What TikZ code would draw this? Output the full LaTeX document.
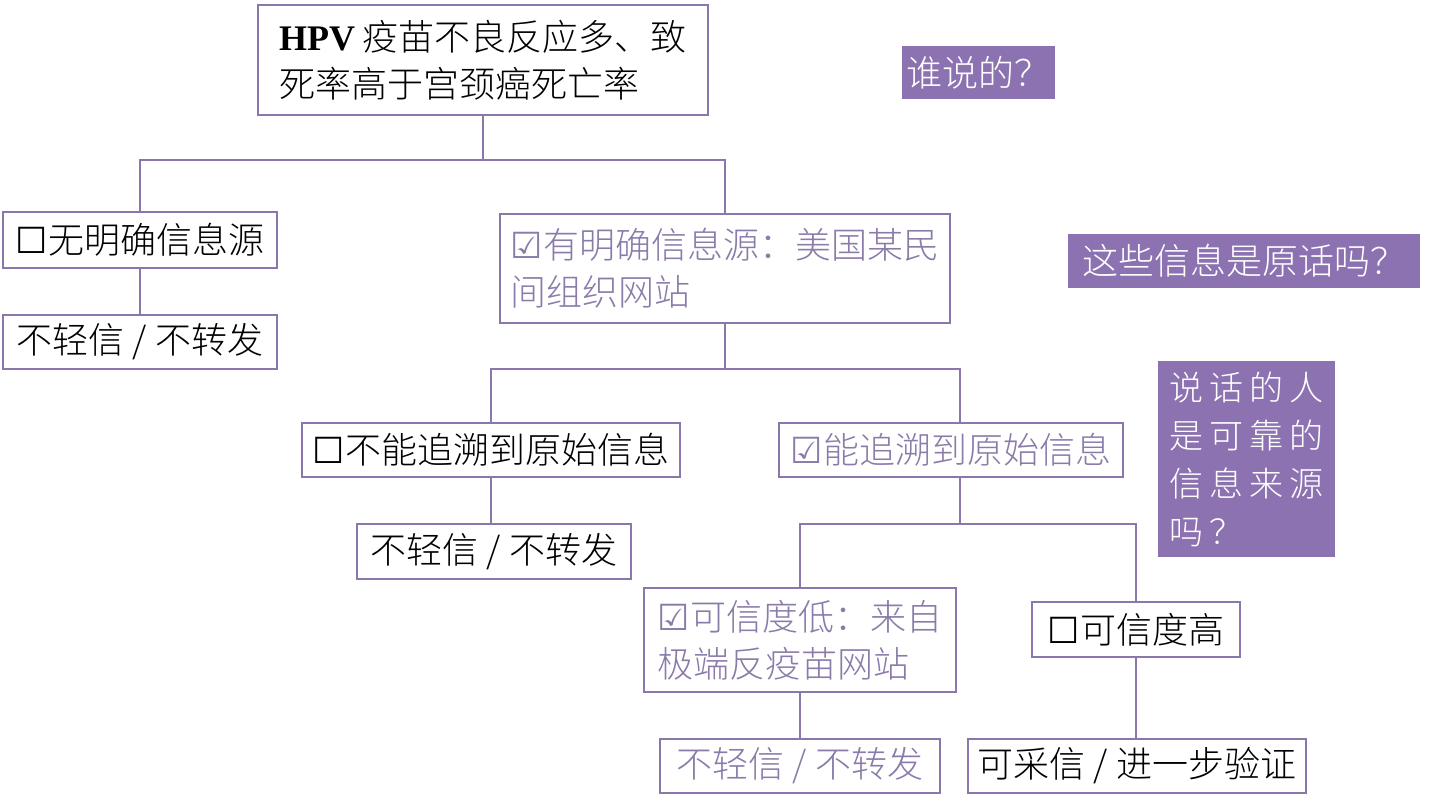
\documentclass[tikz,border=0pt]{standalone}
\usepackage{fontspec}
\setmainfont{Noto Sans CJK SC}[UprightFont=* Light]
\newfontfamily\symfont{DejaVu Sans}
\newfontfamily\hpvfont{Liberation Serif}
\newfontfamily\widefont{Noto Sans CJK SC}[UprightFont=* Light, LetterSpace=17]
\newcommand{\nobox}{{\symfont ☐}}
\newcommand{\yesbox}{{\symfont ☑}}
\definecolor{lineviolet}{HTML}{8A78AD}
\definecolor{fillviolet}{HTML}{8C72B0}
\definecolor{textviolet}{HTML}{8A7BA9}
\tikzset{
  choice/.style={draw=lineviolet, line width=1pt, inner sep=0pt, align=left,
    font=\fontsize{18}{23.5}\selectfont},
  faded/.style={text=textviolet},
  ask/.style={fill=fillviolet, text=white, inner sep=0pt, align=left,
    font=\fontsize{18}{24}\selectfont},
  link/.style={lineviolet, line width=1pt}
}
\begin{document}
\begin{tikzpicture}[x=0.5pt, y=-0.5pt]
\useasboundingbox (0,0) rectangle (1432,800);

\node[choice, minimum width=225pt, minimum height=55pt] (top) at (483,60)
  {{\hpvfont\bfseries HPV} 疫苗不良反应多、致\\死率高于宫颈癌死亡率};
\node[ask, minimum width=76.5pt, minimum height=26.5pt] (who) at (978.5,72.5) {谁说的？};

\node[choice, minimum width=137pt, minimum height=28pt] (nosrc) at (140,240) {\nobox 无明确信息源};
\node[choice, minimum width=137pt, minimum height=27pt] (nosrcout) at (140,342) {不轻信 / 不转发};
\node[choice, faded, minimum width=225pt, minimum height=54.5pt] (src) at (725,268.5)
  {\yesbox 有明确信息源：美国某民\\间组织网站};
\node[ask, minimum width=176pt, minimum height=27pt] (orig) at (1244,261) {这些信息是原话吗？};

\node[choice, minimum width=189pt, minimum height=27pt] (notrace) at (491,450) {\nobox 不能追溯到原始信息};
\node[choice, minimum width=137pt, minimum height=27.5pt] (notraceout) at (494,551.5) {不轻信 / 不转发};
\node[choice, faded, minimum width=172pt, minimum height=27pt] (trace) at (951,450) {\yesbox 能追溯到原始信息};
\node[ask, minimum width=88.5pt, minimum height=98pt, font=\widefont\fontsize{17}{24}\selectfont] (speaker) at (1246.5,459)
  {说话的人\\是可靠的\\信息来源\\吗？};

\node[choice, faded, minimum width=156pt, minimum height=52pt] (low) at (800,640)
  {\yesbox 可信度低：来自\\极端反疫苗网站};
\node[choice, minimum width=104pt, minimum height=27.5pt] (high) at (1136,629.5) {\nobox 可信度高};
\node[choice, faded, minimum width=140pt, minimum height=27pt] (lowout) at (800,766) {不轻信 / 不转发};
\node[choice, minimum width=169pt, minimum height=27pt] (highout) at (1137,766) {可采信 / 进一步验证};

\coordinate (j1) at (483,160);
\coordinate (j2) at (725,369);
\coordinate (trx) at (960,450);
\coordinate (j3) at (960,524);

\draw[link] (top) -- (j1);
\draw[link] (nosrc) |- (j1) -| (src);
\draw[link] (nosrc) -- (nosrc |- nosrcout.north);
\draw[link] (src) -- (j2);
\draw[link] (notrace) |- (j2) -| (trace.north -| trx);
\draw[link] (notrace) -- (notrace |- notraceout.north);
\draw[link] (trace.south -| trx) -- (j3);
\draw[link] (low) |- (j3) -| (high);
\draw[link] (low) -- (low |- lowout.north);
\draw[link] (high) -- (high |- highout.north);
\end{tikzpicture}
\end{document}
